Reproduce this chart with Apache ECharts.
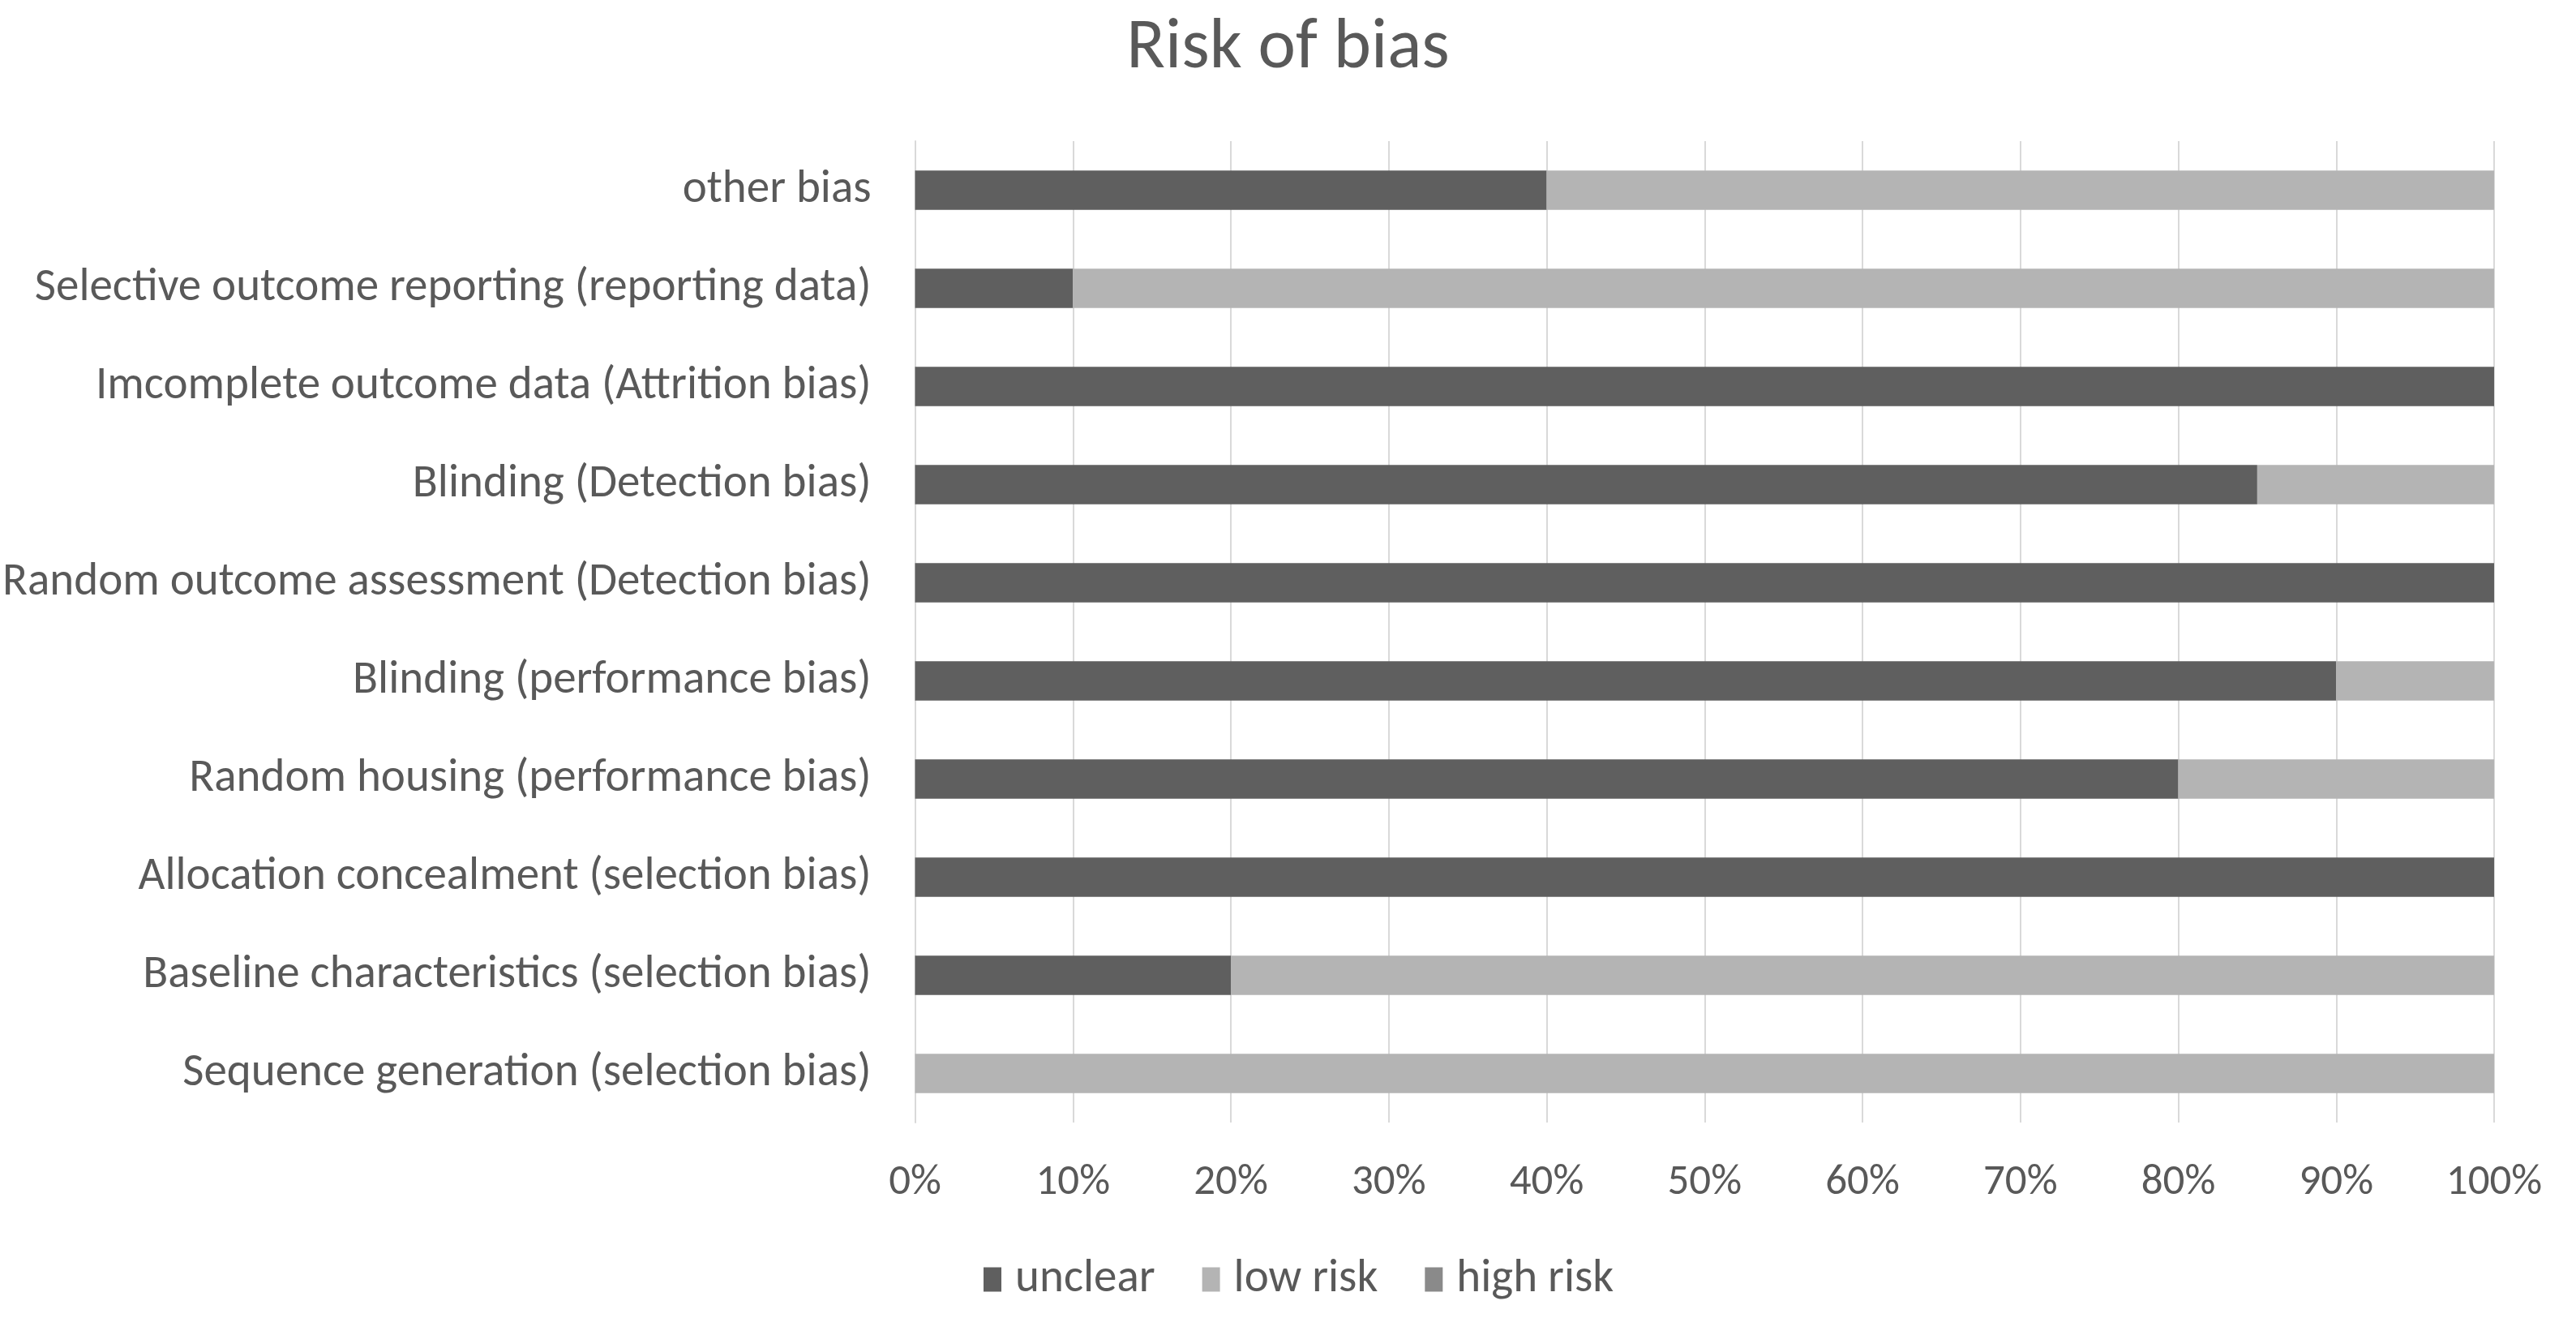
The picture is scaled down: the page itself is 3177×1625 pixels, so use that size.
<!DOCTYPE html>
<html>
<head>
<meta charset="utf-8">
<script src="https://cdn.jsdelivr.net/npm/echarts@6/dist/echarts.min.js"></script>
<style>
html,body{margin:0;padding:0;background:#fff;}
#chart{width:3177px;height:1625px;}
</style>
</head>
<body>
<div id="chart"></div>
<script>
const categories = [
  "Sequence generation (selection bias)",
  "Baseline characteristics (selection bias)",
  "Allocation concealment (selection bias)",
  "Random housing (performance bias)",
  "Blinding (performance bias)",
  "Random outcome assessment (Detection bias)",
  "Blinding (Detection bias)",
  "Imcomplete outcome data (Attrition bias)",
  "Selective outcome reporting (reporting data)",
  "other bias"
];
const unclear  = [0, 20, 100, 80, 90, 100, 85, 100, 10, 40];
const lowRisk  = [100, 80, 0, 20, 10, 0, 15, 0, 90, 60];
const highRisk = [0, 0, 0, 0, 0, 0, 0, 0, 0, 0];
const tickLabels = ["0%","10%","20%","30%","40%","50%","60%","70%","80%","90%","100%"];

const FONT = "Carlito, Calibri, Lato, sans-serif";
const TXT = "#595959";
const chart = echarts.init(document.getElementById('chart'), null, {renderer:'canvas'});
chart.setOption({
  animation:false,
  backgroundColor:'#ffffff',
  title:{
    text:'Risk of bias', left:'center', top:12,
    textStyle:{fontFamily:FONT, fontSize:88, fontWeight:'normal', color:TXT}
  },
  legend:{
    bottom:14, left:1208,
    itemWidth:22, itemHeight:30, itemGap:58,
    icon:'rect',
    textStyle:{fontFamily:FONT, fontSize:57, color:TXT, padding:[0,0,0,12]},
    data:['unclear','low risk','high risk']
  },
  grid:{left:1128, right:101, top:174, bottom:241, containLabel:false},
  xAxis:{
    type:'value', min:0, max:100, interval:10,
    axisLine:{show:false}, axisTick:{show:false},
    splitLine:{show:true, lineStyle:{color:'#d9d9d9', width:2}},
    axisLabel:{
      margin:48, fontFamily:FONT, fontSize:53, color:TXT,
      formatter:function(v){ return tickLabels[Math.round(v/10)]; }
    }
  },
  yAxis:{
    type:'category', data:categories,
    axisLine:{show:true, lineStyle:{color:'#d9d9d9', width:2}},
    axisTick:{show:false},
    axisLabel:{margin:54, fontFamily:FONT, fontSize:57, color:TXT}
  },
  series:[
    {name:'unclear', type:'bar', stack:'a', barWidth:'40%', data:unclear, itemStyle:{color:'#5f5f5f'}},
    {name:'low risk', type:'bar', stack:'a', data:lowRisk, itemStyle:{color:'#b4b4b4'}},
    {name:'high risk', type:'bar', stack:'a', data:highRisk, itemStyle:{color:'#8a8a8a'}}
  ]
});
</script>
</body>
</html>
